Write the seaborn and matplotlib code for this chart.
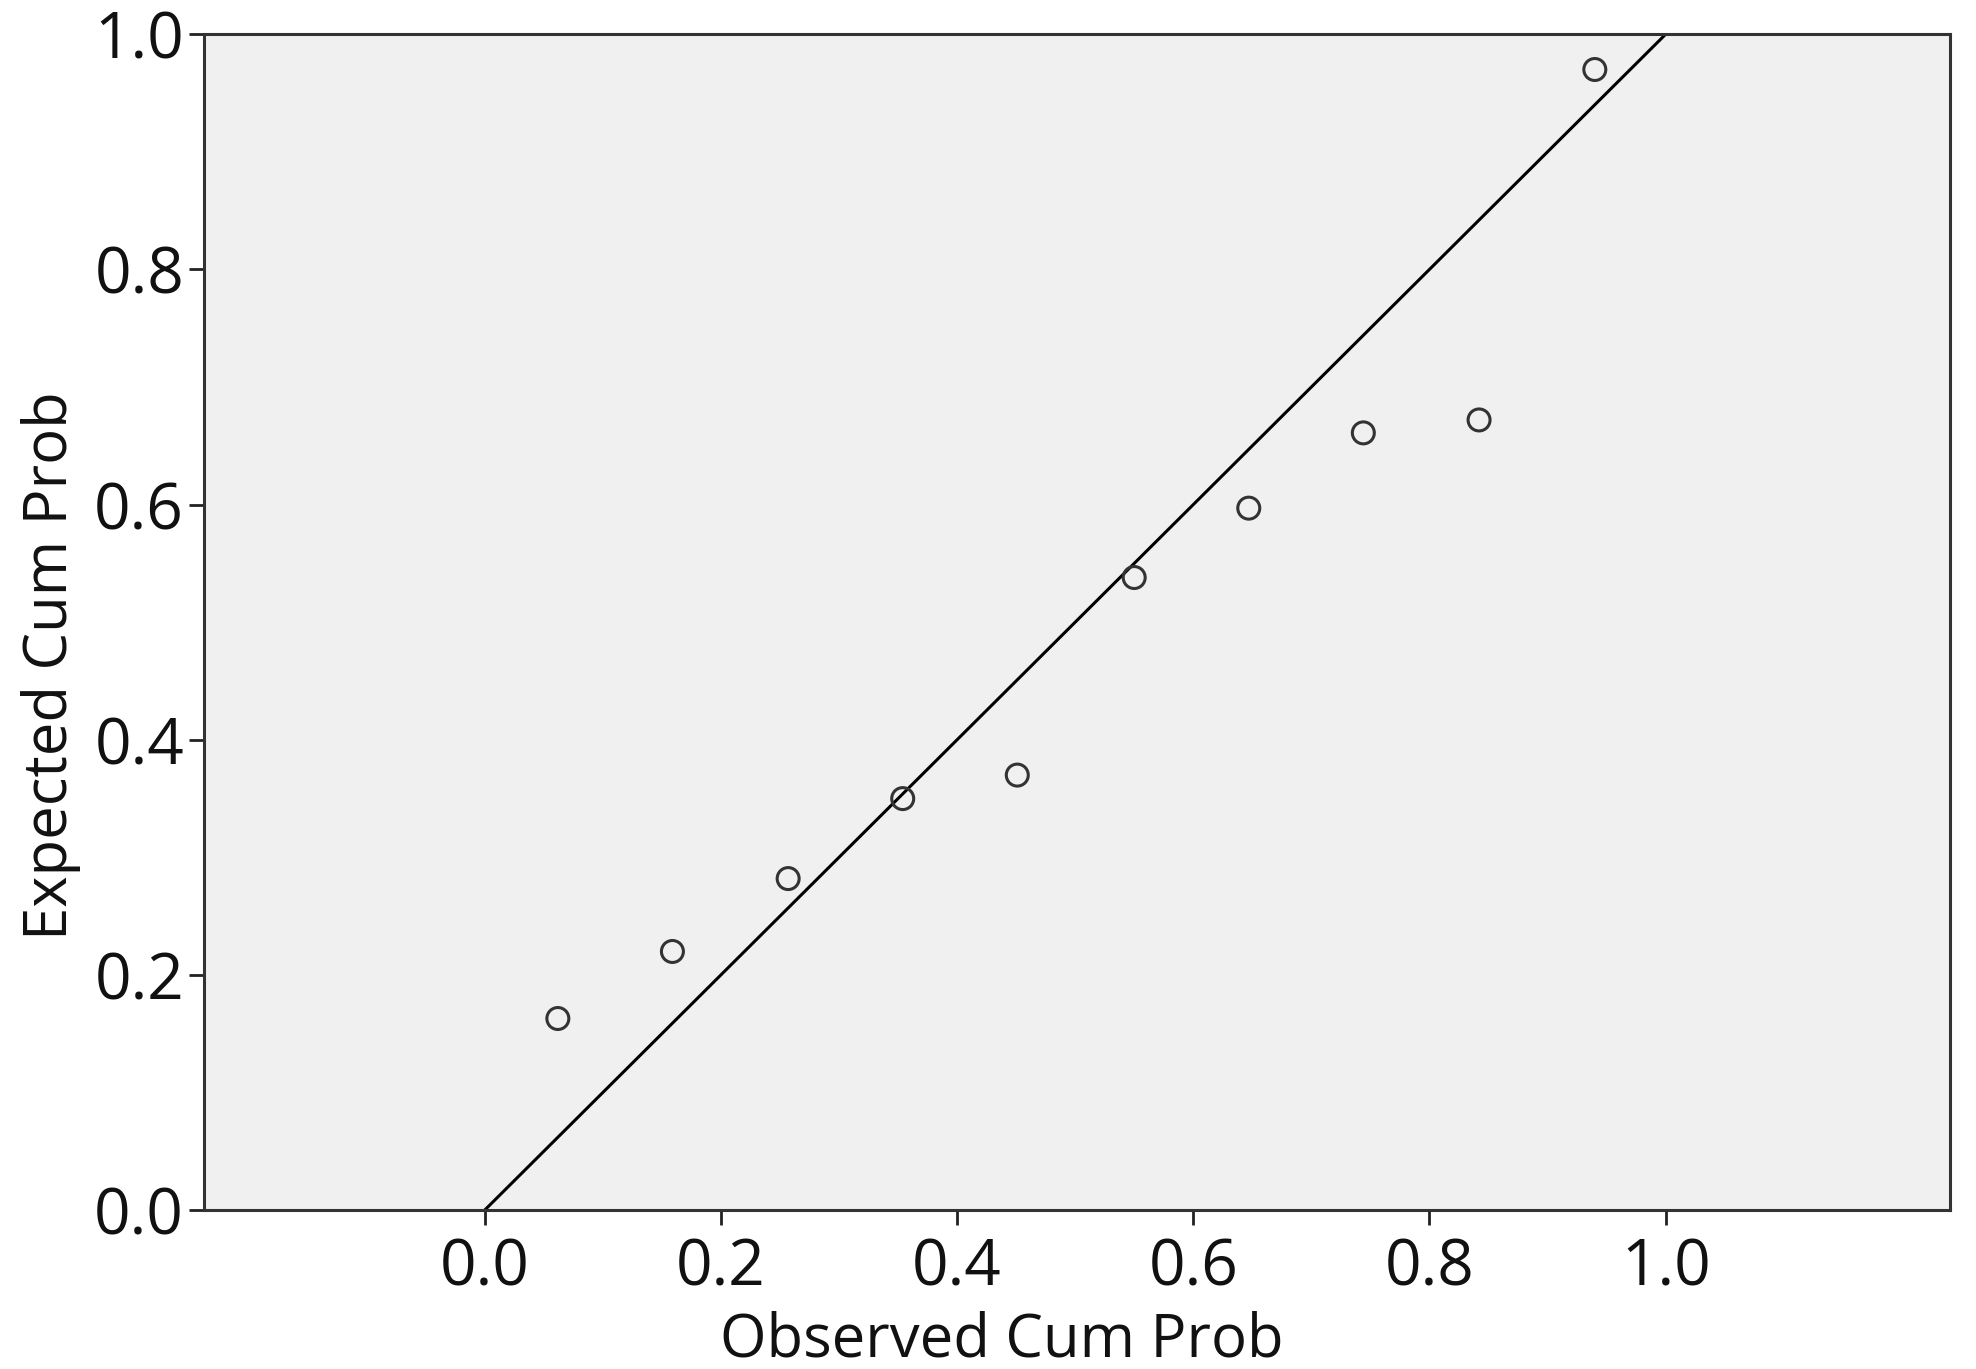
import numpy as np
import pandas as pd
import matplotlib
matplotlib.use("Agg")
import matplotlib.pyplot as plt
import seaborn as sns

# observed vs expected cumulative probabilities
observed = [0.062, 0.159, 0.257, 0.354, 0.451, 0.550, 0.647, 0.744, 0.842, 0.940]
expected = [0.163, 0.220, 0.282, 0.350, 0.370, 0.538, 0.597, 0.661, 0.672, 0.970]
ref_x = [0.0, 1.0]
ref_y = [0.0, 1.0]
ticks = [0.0, 0.2, 0.4, 0.6, 0.8, 1.0]
tick_labels = ["0.0", "0.2", "0.4", "0.6", "0.8", "1.0"]

df = pd.DataFrame({"Observed Cum Prob": observed, "Expected Cum Prob": expected})
ref = pd.DataFrame({"x": ref_x, "y": ref_y})

sns.set_style("ticks")
plt.rcParams['font.family'] = ['Open Sans', 'DejaVu Sans']

fig = plt.figure(figsize=(19.76, 13.69), dpi=100)
ax = fig.add_axes([0.103, 0.116, 0.884, 0.859])
ax.set_facecolor("#f0f0f0")

sns.lineplot(data=ref, x="x", y="y", ax=ax, color="black", linewidth=2.2)
sns.scatterplot(data=df, x="Observed Cum Prob", y="Expected Cum Prob", ax=ax,
                marker="o", s=250, facecolor="none", edgecolor="#333333",
                linewidth=2.2, zorder=3)

ax.set_xlim(-0.238, 1.241)
ax.set_ylim(0.0, 1.0)
ax.set_xticks(ticks)
ax.set_xticklabels(tick_labels)
ax.set_yticks(ticks)
ax.set_yticklabels(tick_labels)
ax.tick_params(axis="both", direction="out", length=11, width=2,
               labelsize=46, color="#222222", labelcolor="#111111")
ax.tick_params(axis="x", pad=8)
ax.tick_params(axis="y", pad=3)
for sp in ax.spines.values():
    sp.set_linewidth(2.2)
    sp.set_color("#333333")

ax.set_xlabel("Observed Cum Prob", fontsize=43, color="#111111")
ax.set_ylabel("Expected Cum Prob", fontsize=43, color="#111111")
ax.xaxis.set_label_coords(0.457, -0.085)
ax.yaxis.set_label_coords(-0.070, 0.463)

plt.savefig("out.png", dpi=100)
plt.close()
